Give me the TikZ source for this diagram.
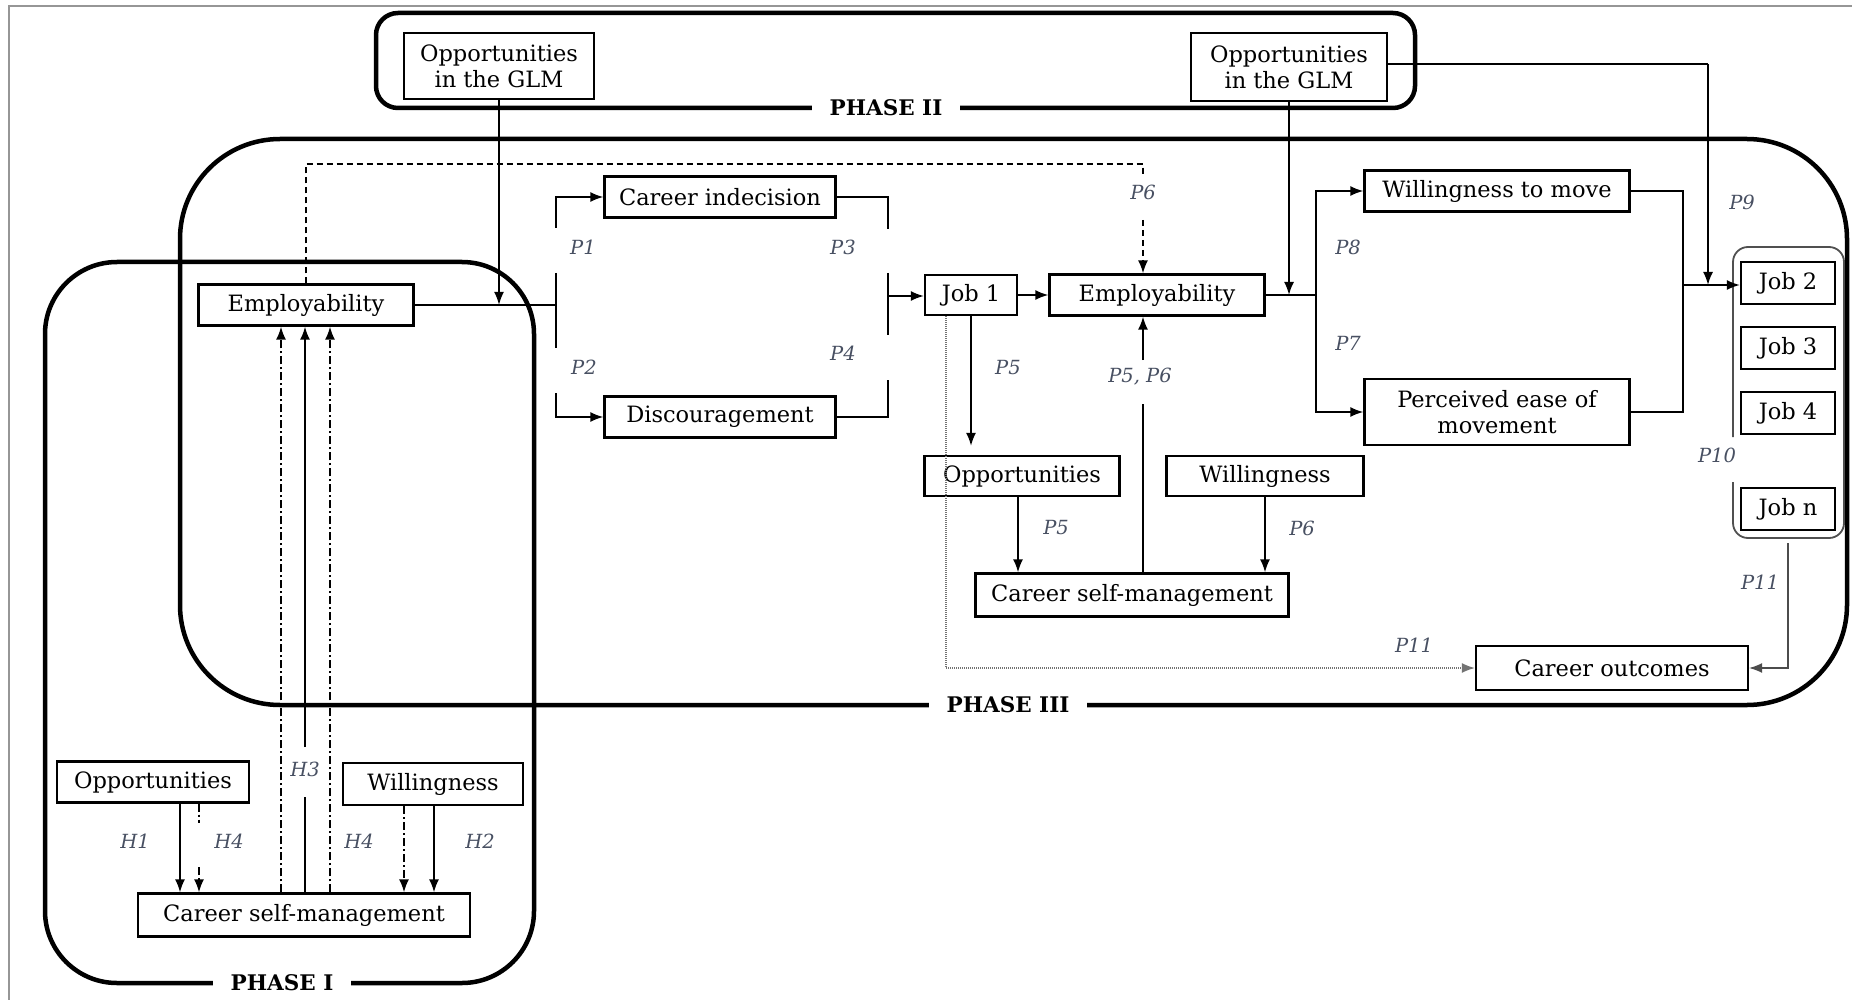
\documentclass[tikz,border=0pt]{standalone}
\usepackage{fontspec}
\setmainfont{DejaVu Serif}
\usetikzlibrary{arrows.meta,calc}

\definecolor{lblc}{RGB}{72,80,98}
\definecolor{framec}{RGB}{150,150,150}
\definecolor{grpc}{RGB}{80,80,80}

\begin{document}
\begin{tikzpicture}[x=1pt,y=-1pt,
  box/.style={draw,fill=white,line width=2.2pt,inner sep=0pt,align=center,
    font=\fontsize{22.5}{26}\selectfont},
  phase/.style={draw,line width=4.5pt},
  tag/.style={fill=white,inner xsep=18pt,inner ysep=1pt,
    font=\fontsize{21.5}{23}\selectfont\bfseries},
  lbl/.style={text=lblc,inner sep=0pt,font=\fontsize{19.5}{21}\selectfont\itshape},
  conn/.style={line width=1.9pt},
  tip/.style={-{Latex[length=13pt,width=10pt]}},
  arr/.style={conn,tip},
  dashdot/.style={dash pattern=on 8pt off 3pt on 2pt off 3pt},
  dashline/.style={dash pattern=on 6pt off 4pt},
  dotline/.style={draw=black!55,line width=1.5pt,dash pattern=on 1pt off 1pt},
  thinarr/.style={draw=black!70,line width=1.3pt,tip}
]
\useasboundingbox (0,0) rectangle (1852,1000);

% outer frame
\draw[framec,line width=1.5pt] (9,1000) -- (9,6) -- (1852,6);

% phase regions
\draw[phase,rounded corners=22pt] (376,13) rectangle (1415,108);
\node[tag] at (886,108) {PHASE II};
\draw[phase,rounded corners=100pt] (180,139) rectangle (1847,705);
\node[tag] at (1008,705) {PHASE III};
\draw[phase,rounded corners=72pt] (45,262) rectangle (534,983);
\node[tag] at (282,983) {PHASE I};

% phase II nodes
\node[box,minimum width=190pt,minimum height=66pt] (glmA) at (499,66) {Opportunities\\in the GLM};
\node[box,minimum width=196pt,minimum height=68pt] (glmB) at (1289,67) {Opportunities\\in the GLM};

% phase III nodes
\node[box,minimum width=215pt,minimum height=41pt] (emp1) at (306,305) {Employability};
\node[box,minimum width=231pt,minimum height=41pt] (ci) at (720,197) {Career indecision};
\node[box,minimum width=231pt,minimum height=41pt] (disc) at (720,417) {Discouragement};
\node[box,minimum width=92pt,minimum height=40pt] (job1) at (971,295) {Job 1};
\node[box,minimum width=215pt,minimum height=41pt] (emp2) at (1157,295) {Employability};
\node[box,minimum width=195pt,minimum height=40pt] (opp3) at (1022,476) {Opportunities};
\node[box,minimum width=197pt,minimum height=40pt] (will3) at (1265,476) {Willingness};
\node[box,minimum width=313pt,minimum height=43pt] (csm3) at (1132,595) {Career self-management};
\node[box,minimum width=265pt,minimum height=41pt] (wtm) at (1497,191) {Willingness to move};
\node[box,minimum width=265pt,minimum height=66pt] (pe) at (1497,412) {Perceived ease of\\movement};
\node[box,minimum width=94pt,minimum height=42pt] (job2) at (1788,283) {Job 2};
\node[box,minimum width=94pt,minimum height=42pt] (job3) at (1788,348) {Job 3};
\node[box,minimum width=94pt,minimum height=42pt] (job4) at (1788,413) {Job 4};
\node[box,minimum width=94pt,minimum height=42pt] (jobn) at (1788,509) {Job n};
\node[box,minimum width=272pt,minimum height=44pt] (co) at (1612,668) {Career outcomes};

% phase I nodes
\node[box,minimum width=192pt,minimum height=41pt] (opp1) at (153,782) {Opportunities};
\node[box,minimum width=180pt,minimum height=42pt] (will1) at (433,784) {Willingness};
\node[box,minimum width=332pt,minimum height=43pt] (csm1) at (304,915) {Career self-management};

% group of later jobs
\draw[grpc,line width=1.8pt,rounded corners=15pt]
  (1733,482) -- (1733,538) -- (1844,538) -- (1844,247) -- (1733,247) -- (1733,437);

% junction points
\coordinate (jL) at (556,305);
\coordinate (jR) at (888,296);
\coordinate (jS) at (1316,295);
\coordinate (jM) at (1683,285);
\coordinate (p6x) at (1143,164);
\coordinate (glmx) at (1708,64);

% employability to the two branches
\draw[conn] (emp1.east) -- (jL);
\draw[arr] (glmA.south) -- (glmA.south |- emp1.east);
\draw[arr] ($(jL |- ci.west)+(0,31)$) |- (ci.west);
\draw[conn] ($(jL)+(0,-32)$) -- ($(jL)+(0,43)$);
\draw[arr] ($(jL |- disc.west)+(0,-24)$) |- (disc.west);
\node[lbl] at (583,247) {P1};
\node[lbl] at (584,367) {P2};

% branches to the first job
\draw[conn] (ci.east) -| ($(jR |- ci.east)+(0,32)$);
\draw[conn] ($(jR)+(0,-23)$) -- ($(jR)+(0,39)$);
\draw[conn] (disc.east) -| ($(jR |- disc.east)+(0,-37)$);
\draw[arr] (jR) -- (job1.west |- jR);
\node[lbl] at (843,247) {P3};
\node[lbl] at (843,353) {P4};

\draw[arr] (job1) -- (emp2);

% dashed path from the first employability
\draw[conn,dashline] (emp1.north) |- (p6x) -- ($(p6x)+(0,11)$);
\draw[arr,dashline] ($(p6x)+(0,56)$) -- (emp2.north -| p6x);
\node[lbl] at (1143,192) {P6};

% self-management back to employability
\draw[conn] (csm3.north -| p6x) -- (1143,404);
\draw[arr] (1143,360) -- (emp2.south -| p6x);
\node[lbl] at (1140,377) {P5, P6};

\draw[arr] (job1.south) -- ($(job1.south |- opp3.north)+(0,-9)$);
\node[lbl] at (1008,368) {P5};

\draw[arr] (opp3.south -| 1018,0) -- (csm3.north -| 1018,0);
\node[lbl] at (1056,528) {P5};
\draw[arr] (will3.south) -- (will3.south |- csm3.north);
\node[lbl] at (1302,528) {P6};

% dotted link to career outcomes
\draw[dotline,tip] (job1.south -| 946,0) |- (co.west);
\node[lbl] at (1414,645) {P11};

% second employability to mobility
\draw[conn] (emp2.east) -- (jS);
\draw[arr] (glmB.south) -- (glmB.south |- emp2.east);
\draw[arr] (jS) |- (wtm.west);
\draw[arr] (jS) |- (pe.west);
\node[lbl] at (1348,247) {P8};
\node[lbl] at (1348,343) {P7};

\draw[conn] (wtm.east) -| (jM);
\draw[conn] (pe.east) -| (jM);
\draw[arr] (jM) -- (job2.west |- jM);
\draw[conn] (glmB.east |- glmx) -- (glmx);
\draw[arr] (glmx) -- (glmx |- jM);
\node[lbl] at (1742,202) {P9};
\node[lbl] at (1717,455) {P10};

\draw[thinarr] (1788,543) |- (co.east);
\node[lbl] at (1760,582) {P11};

% phase I links
\draw[arr,dashdot] (csm1.north -| 281,0) -- (emp1.south -| 281,0);
\draw[arr,dashdot] (csm1.north -| 330,0) -- (emp1.south -| 330,0);
\draw[conn] (csm1.north -| 305,0) -- (305,797);
\draw[arr] (305,747) -- (emp1.south -| 305,0);
\node[lbl] at (305,769) {H3};

\draw[arr] (opp1.south -| 180,0) -- (csm1.north -| 180,0);
\draw[conn,dashdot] (opp1.south -| 199,0) -- (199,823);
\draw[arr,dashdot] (199,867) -- (csm1.north -| 199,0);
\draw[arr,dashdot] (will1.south -| 404,0) -- (csm1.north -| 404,0);
\draw[arr] (will1.south -| 434,0) -- (csm1.north -| 434,0);
\node[lbl] at (135,841) {H1};
\node[lbl] at (229,841) {H4};
\node[lbl] at (359,841) {H4};
\node[lbl] at (480,841) {H2};
\end{tikzpicture}
\end{document}
